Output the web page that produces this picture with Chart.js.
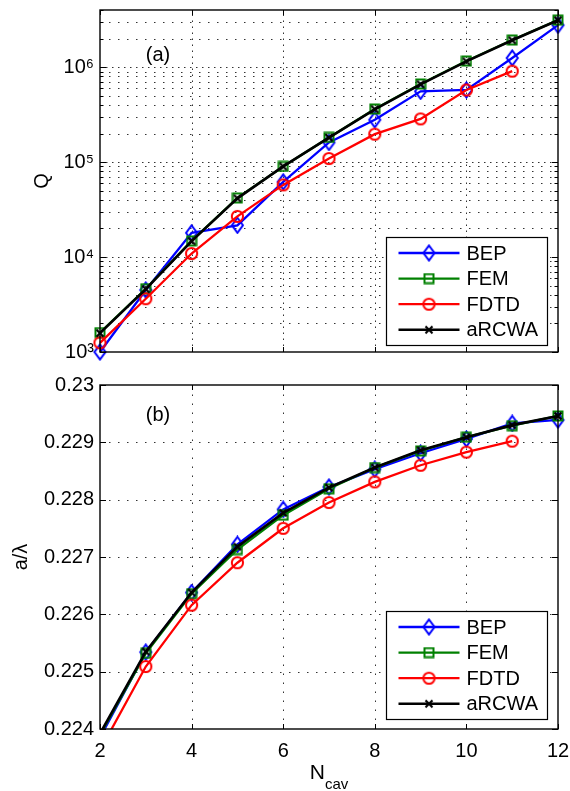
<!DOCTYPE html>
<html><head><meta charset="utf-8">
<script src="https://cdn.jsdelivr.net/npm/chart.js@4.4.1/dist/chart.umd.min.js"></script>
<style>
html,body{margin:0;padding:0;background:#fff;}
#wrap{position:relative;width:570px;height:791px;overflow:hidden;}
#c1{position:absolute;left:0;top:0;}
#c2{position:absolute;left:0;top:370px;}
</style></head><body>
<div id="wrap">
<canvas id="c1" width="570" height="370"></canvas>
<canvas id="c2" width="570" height="421"></canvas>
</div>
<script>
// ---------- data ----------
const nCav = [2, 3, 4, 5, 6, 7, 8, 9, 10, 11, 12];
const nCavFDTD = [2, 3, 4, 5, 6, 7, 8, 9, 10, 11];

// (a) quality factor Q
const qBEP   = [1000, 4500, 18000, 21600, 62000, 161000, 279000, 556000, 575000, 1250000, 2770000];
const qFEM   = [1600, 4640, 14800, 42000, 90000, 182000, 362000, 665000, 1160000, 1930000, 3130000];
const qFDTD  = [1250, 3640, 10900, 26800, 57500, 109000, 197000, 285000, 575000, 908000];
const qARCWA = [1580, 4600, 14700, 41500, 90000, 181000, 360000, 660000, 1150000, 1920000, 3120000];

// (b) normalized frequency a/lambda
const aBEP   = [0.22385, 0.22534, 0.22638, 0.22722, 0.22783, 0.22822, 0.22853, 0.22881, 0.22906, 0.22933, 0.22939];
const aFEM   = [0.22390, 0.22532, 0.22636, 0.22713, 0.22773, 0.22819, 0.22856, 0.22885, 0.22909, 0.22929, 0.22946];
const aFDTD  = [0.22363, 0.22509, 0.22616, 0.22690, 0.22750, 0.22795, 0.22831, 0.22860, 0.22883, 0.22902];
const aARCWA = [0.22392, 0.22535, 0.22638, 0.22718, 0.22777, 0.22821, 0.22856, 0.22886, 0.22909, 0.22930, 0.22946];

// ticks
const xTicks = [2, 4, 6, 8, 10, 12];
const qDecades = [1e3, 1e4, 1e5, 1e6];
const qMultipliers = [1, 2, 3, 4, 5, 6, 7, 8, 9];
const aTicks = [0.224, 0.225, 0.226, 0.227, 0.228, 0.229, 0.23];
const seriesNames = ['BEP', 'FEM', 'FDTD', 'aRCWA'];

const Q_MIN = 1e3, Q_MAX = 4e6;
const qGrid = [];
qDecades.forEach(d => qMultipliers.forEach(m => { const v = d * m; if (v <= Q_MAX) qGrid.push(v); }));

const FONT = "'Liberation Sans', Arial, Helvetica, sans-serif";
const SUP = {'0':'⁰','1':'¹','2':'²','3':'³','4':'⁴','5':'⁵','6':'⁶','7':'⁷','8':'⁸','9':'⁹'};

// ---------- markers ----------
function mk(w, h, draw) {
  const c = document.createElement('canvas');
  c.width = w; c.height = h;
  const g = c.getContext('2d');
  draw(g);
  return c;
}
const mDiamond = mk(15, 18, g => { g.strokeStyle = '#0000ff'; g.lineWidth = 2;
  g.beginPath(); g.moveTo(7.5, 1.5); g.lineTo(13, 9); g.lineTo(7.5, 16.5); g.lineTo(2, 9); g.closePath(); g.stroke(); });
const mSquare = mk(12, 12, g => { g.strokeStyle = '#008000'; g.lineWidth = 2; g.strokeRect(1.5, 1.5, 9, 9); });
const mCircle = mk(15, 15, g => { g.strokeStyle = '#ff0000'; g.lineWidth = 2; g.beginPath(); g.arc(7.5, 7.5, 5.6, 0, Math.PI * 2); g.stroke(); });
const mCross = mk(12, 12, g => { g.strokeStyle = '#000000'; g.lineWidth = 2.2;
  g.beginPath(); g.moveTo(2.5, 2.5); g.lineTo(9.5, 9.5); g.moveTo(9.5, 2.5); g.lineTo(2.5, 9.5); g.stroke(); });

const styles = [
  {color: '#0000ff', marker: mDiamond, order: 3, lw: 2.3},
  {color: '#008000', marker: mSquare, order: 2, lw: 2.3},
  {color: '#ff0000', marker: mCircle, order: 1, lw: 2.3},
  {color: '#000000', marker: mCross, order: 0, lw: 2.6}
];

function ds(i, xs, ys, clip) {
  const s = styles[i];
  return {
    label: seriesNames[i],
    data: xs.map((x, k) => ({x: x, y: ys[k]})),
    borderColor: s.color, backgroundColor: s.color, borderWidth: s.lw,
    pointStyle: s.marker, pointRadius: 6, pointBorderWidth: 0,
    tension: 0, order: s.order, clip: clip
  };
}

// ---------- MATLAB-like axes plugin ----------
function makePlugin(cfg) {
  return {
    id: 'matlab_' + cfg.name,
    beforeDatasetsDraw(chart) {
      const {ctx, chartArea: a} = chart;
      const xs = chart.scales.x, ys = chart.scales.y;
      ctx.save();
      ctx.strokeStyle = 'rgba(0,0,0,0.8)';
      ctx.lineWidth = 1;
      xs.ticks.forEach(t => {
        const px = Math.round(xs.getPixelForValue(t.value)) + 0.5;
        if (px <= a.left + 2 || px >= a.right - 2) return;
        ctx.setLineDash(cfg.xDash);
        ctx.beginPath(); ctx.moveTo(px, a.bottom); ctx.lineTo(px, a.top); ctx.stroke();
      });
      ys.ticks.forEach(t => {
        const py = Math.round(ys.getPixelForValue(t.value)) + 0.5;
        if (py <= a.top + 2 || py >= a.bottom - 2) return;
        const major = cfg.log ? Math.abs(Math.log10(t.value) - Math.round(Math.log10(t.value))) < 1e-9 : true;
        ctx.setLineDash(major ? cfg.yMajorDash : cfg.yMinorDash);
        ctx.beginPath(); ctx.moveTo(a.left, py); ctx.lineTo(a.right, py); ctx.stroke();
      });
      ctx.restore();
    },
    afterDatasetsDraw(chart) {
      const {ctx, chartArea: a} = chart;
      const xs = chart.scales.x, ys = chart.scales.y;
      ctx.save();
      ctx.setLineDash([]);
      ctx.strokeStyle = '#000';
      ctx.lineWidth = 1;
      // inward ticks
      xs.ticks.forEach(t => {
        const px = Math.round(xs.getPixelForValue(t.value)) + 0.5;
        ctx.beginPath();
        ctx.moveTo(px, a.bottom); ctx.lineTo(px, a.bottom - 5);
        ctx.moveTo(px, a.top); ctx.lineTo(px, a.top + 5);
        ctx.stroke();
      });
      ys.ticks.forEach(t => {
        const py = Math.round(ys.getPixelForValue(t.value)) + 0.5;
        const major = cfg.log ? Math.abs(Math.log10(t.value) - Math.round(Math.log10(t.value))) < 1e-9 : true;
        const len = major ? 6 : 3.5;
        ctx.beginPath();
        ctx.moveTo(a.left, py); ctx.lineTo(a.left + len, py);
        ctx.moveTo(a.right, py); ctx.lineTo(a.right - len, py);
        ctx.stroke();
      });
      // box
      ctx.lineWidth = 1.4;
      ctx.strokeRect(a.left, a.top, a.right - a.left, a.bottom - a.top);

      // panel label
      ctx.fillStyle = '#000';
      ctx.font = '20px ' + FONT;
      ctx.textAlign = 'left';
      ctx.textBaseline = 'middle';
      ctx.fillText(cfg.panel, xs.getPixelForValue(cfg.panelX), ys.getPixelForValue(cfg.panelY));

      // legend
      const bw = 161, bh = 108;
      const bx = Math.round(a.right - cfg.legRight - bw) + 0.5;
      const by = Math.round(a.bottom - cfg.legBottom - bh) + 0.5;
      ctx.fillStyle = '#fff';
      ctx.fillRect(bx, by, bw, bh);
      ctx.lineWidth = 1.2;
      ctx.strokeStyle = '#000';
      ctx.strokeRect(bx, by, bw, bh);
      chart.data.datasets.forEach((d, i) => {
        const s = styles[i];
        const cy = by + 15.5 + i * 25.6;
        ctx.strokeStyle = s.color;
        ctx.lineWidth = s.lw;
        ctx.beginPath(); ctx.moveTo(bx + 12, cy); ctx.lineTo(bx + 73, cy); ctx.stroke();
        ctx.drawImage(s.marker, bx + 42.5 - s.marker.width / 2, cy - s.marker.height / 2);
        ctx.fillStyle = '#000';
        ctx.font = '20px ' + FONT;
        ctx.textAlign = 'left';
        ctx.textBaseline = 'middle';
        ctx.fillText(d.label, bx + 80, cy + 1);
      });

      // x-axis title with subscript
      if (cfg.xTitle) {
        ctx.fillStyle = '#000';
        ctx.textBaseline = 'alphabetic';
        ctx.font = '21px ' + FONT;
        const w1 = ctx.measureText(cfg.xTitle[0]).width;
        ctx.font = '15px ' + FONT;
        const w2 = ctx.measureText(cfg.xTitle[1]).width;
        const cx = (a.left + a.right) / 2;
        const x0 = cx - (w1 + w2) / 2;
        ctx.font = '21px ' + FONT;
        ctx.fillText(cfg.xTitle[0], x0, a.bottom + 50);
        ctx.font = '15px ' + FONT;
        ctx.fillText(cfg.xTitle[1], x0 + w1, a.bottom + 60);
      }
      ctx.restore();
    }
  };
}

const common = {
  responsive: false, animation: false, devicePixelRatio: 1, events: [],
  plugins: {legend: {display: false}, tooltip: {enabled: false}}
};

// ---------- (a) ----------
new Chart(document.getElementById('c1'), {
  type: 'line',
  data: {datasets: [
    ds(0, nCav, qBEP, false), ds(1, nCav, qFEM, false), ds(2, nCavFDTD, qFDTD, false), ds(3, nCav, qARCWA, false)
  ]},
  options: Object.assign({}, common, {
    layout: {padding: {left: 0, right: 12, top: 10, bottom: 0}},
    scales: {
      x: {
        type: 'linear', min: 2, max: 12,
        afterBuildTicks(s) { s.ticks = xTicks.map(v => ({value: v})); },
        ticks: {display: false},
        grid: {display: false, drawTicks: false}, border: {display: false},
        afterFit(s) { s.height = 18; s.paddingLeft = 0; s.paddingRight = 0; }
      },
      y: {
        type: 'logarithmic', min: Q_MIN, max: Q_MAX,
        afterBuildTicks(s) { s.ticks = qGrid.map(v => ({value: v})); },
        ticks: {
          autoSkip: false, padding: 6, color: '#000', font: {family: FONT, size: 20},
          callback: v => {
            const e = Math.log10(v);
            if (Math.abs(e - Math.round(e)) > 1e-9) return '';
            return '10' + String(Math.round(e)).split('').map(c => SUP[c]).join('');
          }
        },
        grid: {display: false, drawTicks: false}, border: {display: false},
        title: {display: true, text: 'Q', color: '#000', font: {family: FONT, size: 20}, padding: {top: 30, bottom: 0}},
        afterFit(s) { s.width = 100; s.paddingTop = 0; s.paddingBottom = 0; }
      }
    }
  }),
  plugins: [makePlugin({name: 'a', log: true, xDash: [1.5, 4.5], yMajorDash: [1.5, 4.5], yMinorDash: [1.5, 7.5],
    panel: '(a)', panelX: 3, panelY: 1.34e6, legRight: 11, legBottom: 7})]
});

// ---------- (b) ----------
new Chart(document.getElementById('c2'), {
  type: 'line',
  data: {datasets: [
    ds(0, nCav, aBEP, {left: 10, right: 10, top: 10, bottom: 0}),
    ds(1, nCav, aFEM, {left: 10, right: 10, top: 10, bottom: 0}),
    ds(2, nCavFDTD, aFDTD, {left: 10, right: 10, top: 10, bottom: 0}),
    ds(3, nCav, aARCWA, {left: 10, right: 10, top: 10, bottom: 0})
  ]},
  options: Object.assign({}, common, {
    layout: {padding: {left: 0, right: 12, top: 15, bottom: 0}},
    scales: {
      x: {
        type: 'linear', min: 2, max: 12,
        afterBuildTicks(s) { s.ticks = xTicks.map(v => ({value: v})); },
        ticks: {padding: 10, color: '#000', font: {family: FONT, size: 20}, maxRotation: 0, autoSkip: false,
          callback: v => String(v)},
        grid: {display: false, drawTicks: false}, border: {display: false},
        afterFit(s) { s.height = 62; s.paddingLeft = 0; s.paddingRight = 0; }
      },
      y: {
        type: 'linear', min: 0.224, max: 0.23,
        afterBuildTicks(s) { s.ticks = aTicks.map(v => ({value: v})); },
        ticks: {autoSkip: false, padding: 6, color: '#000', font: {family: FONT, size: 20},
          callback: v => String(parseFloat(Number(v).toFixed(3)))},
        grid: {display: false, drawTicks: false}, border: {display: false},
        title: {display: true, text: 'a/λ', color: '#000', font: {family: FONT, size: 20}, padding: {top: 9, bottom: 0}},
        afterFit(s) { s.width = 100; s.paddingTop = 0; s.paddingBottom = 0; }
      }
    }
  }),
  plugins: [makePlugin({name: 'b', log: false, xDash: [1.5, 7.5], yMajorDash: [1.5, 7.5], yMinorDash: [1.5, 7.5],
    panel: '(b)', panelX: 3, panelY: 0.22947, legRight: 11, legBottom: 10, xTitle: ['N', 'cav']})]
});
</script>
</body></html>
